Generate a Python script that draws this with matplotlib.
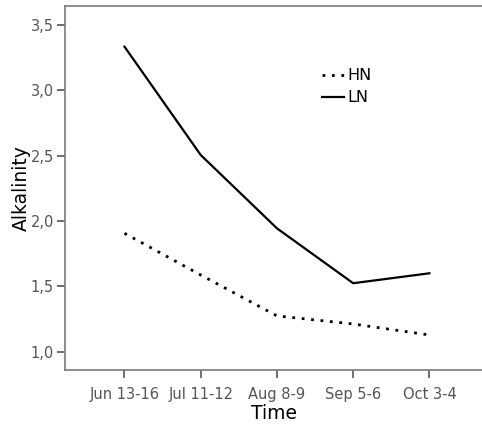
import matplotlib
matplotlib.use('Agg')
import matplotlib.pyplot as plt
from matplotlib.ticker import FuncFormatter

times = ['Jun 13-16', 'Jul 11-12', 'Aug 8-9', 'Sep 5-6', 'Oct 3-4']
hn = [1.906, 1.587, 1.274, 1.212, 1.128]
ln = [3.334, 2.505, 1.944, 1.524, 1.600]
yticks = [1.0, 1.5, 2.0, 2.5, 3.0, 3.5]

fig = plt.figure(figsize=(4.82, 4.25), dpi=100)
ax = fig.add_axes([0.1349, 0.1294, 0.8651, 0.8565])

x = range(len(times))
ax.plot(x, hn, color='black', linestyle=(0, (1, 2.4)), linewidth=2.0, label='HN')
ax.plot(x, ln, color='black', linestyle='-', linewidth=1.6, label='LN')

ax.set_xlim(-0.78, 4.69)
ax.set_ylim(0.86, 3.645)
ax.set_xticks(list(x))
ax.set_xticklabels(times)
ax.set_yticks(yticks)
ax.yaxis.set_major_formatter(FuncFormatter(lambda v, p: ('%.1f' % v).replace('.', ',')))

for side in ['left', 'bottom', 'top']:
    ax.spines[side].set_color('#7a7a7a')
    ax.spines[side].set_linewidth(1.2)
ax.spines['right'].set_visible(False)
ax.tick_params(colors='#555555', labelsize=10.5, length=6, width=1.2)
ax.tick_params(axis='x', pad=6)
ax.tick_params(axis='y', pad=2)

ax.set_xlabel('Time', fontsize=13.5, color='black', labelpad=2)
ax.set_ylabel('Alkalinity', fontsize=13.5, color='black')
ax.yaxis.set_label_coords(-0.082, 0.5)

ax.legend(loc='upper left', bbox_to_anchor=(0.598, 0.851), frameon=False,
          fontsize=11.5, handlelength=1.35, handletextpad=0.2, labelspacing=0.45,
          borderpad=0)

fig.savefig('out.png', dpi=100)
